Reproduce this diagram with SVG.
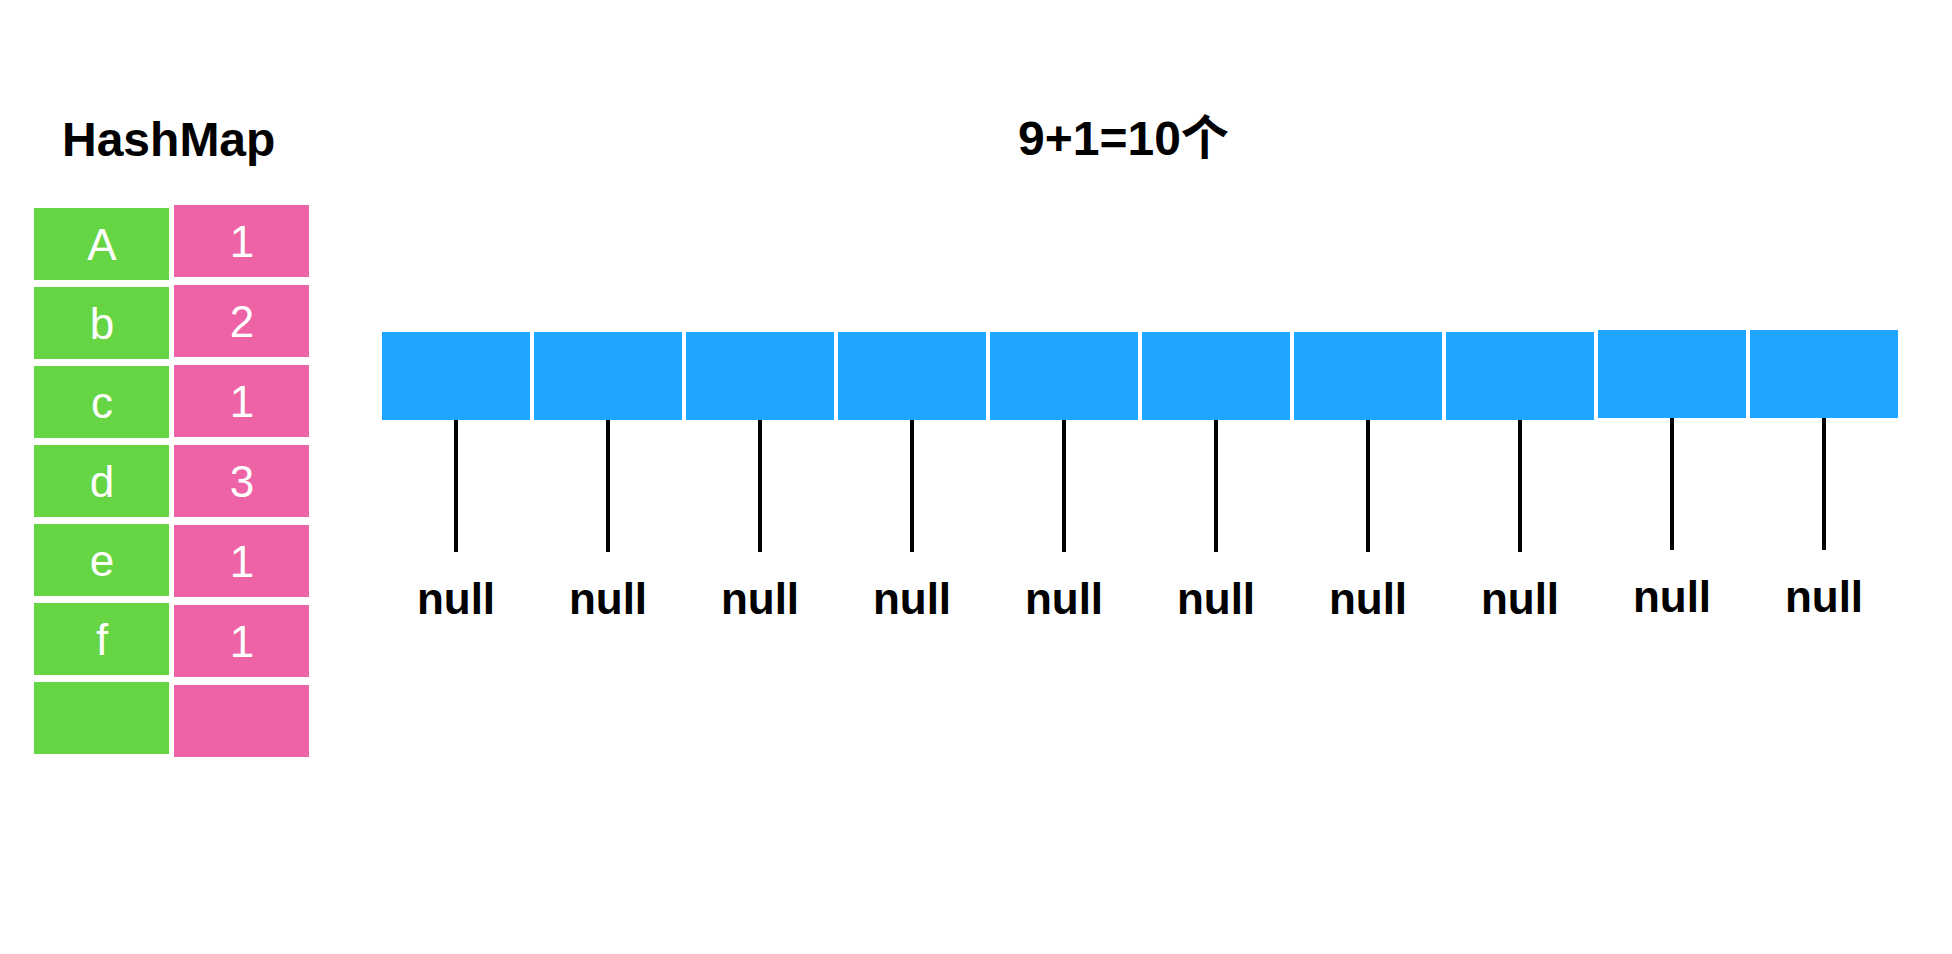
<svg xmlns="http://www.w3.org/2000/svg" width="1952" height="954" viewBox="0 0 1952 954">
<style>
.key{fill:#66D544}
.val{fill:#EE63A6}
.slot{fill:#1EA5FD}
.cell{font-family:"Liberation Sans",Arial,sans-serif;font-size:44px;fill:#fff;text-anchor:middle}
.title{font-family:"Liberation Sans",Arial,"Noto Sans CJK SC",sans-serif;font-size:48px;font-weight:bold;fill:#000}
.null{font-family:"Liberation Sans",Arial,sans-serif;font-size:44px;font-weight:bold;fill:#000;text-anchor:middle}
.link{stroke:#000;stroke-width:4;fill:none}
</style>
<rect width="1952" height="954" fill="#fff"/>
<text class="title" x="62" y="156">HashMap</text>
<text class="title" x="1018" y="155">9+1=10个</text>
<g id="hashmap">
<g id="row-A"><rect class="key" x="34" y="208" width="135" height="72"/><rect class="val" x="174" y="205" width="135" height="72"/><text class="cell" x="102" y="260">A</text><text class="cell" x="242" y="257">1</text></g>
<g id="row-b"><rect class="key" x="34" y="287" width="135" height="72"/><rect class="val" x="174" y="285" width="135" height="72"/><text class="cell" x="102" y="339">b</text><text class="cell" x="242" y="337">2</text></g>
<g id="row-c"><rect class="key" x="34" y="366" width="135" height="72"/><rect class="val" x="174" y="365" width="135" height="72"/><text class="cell" x="102" y="418">c</text><text class="cell" x="242" y="417">1</text></g>
<g id="row-d"><rect class="key" x="34" y="445" width="135" height="72"/><rect class="val" x="174" y="445" width="135" height="72"/><text class="cell" x="102" y="497">d</text><text class="cell" x="242" y="497">3</text></g>
<g id="row-e"><rect class="key" x="34" y="524" width="135" height="72"/><rect class="val" x="174" y="525" width="135" height="72"/><text class="cell" x="102" y="576">e</text><text class="cell" x="242" y="577">1</text></g>
<g id="row-f"><rect class="key" x="34" y="603" width="135" height="72"/><rect class="val" x="174" y="605" width="135" height="72"/><text class="cell" x="102" y="655">f</text><text class="cell" x="242" y="657">1</text></g>
<g id="row-empty"><rect class="key" x="34" y="682" width="135" height="72"/><rect class="val" x="174" y="685" width="135" height="72"/></g>
</g>
<g id="slots">
<g id="slot-1"><rect class="slot" x="382" y="332" width="148" height="88"/></g>
<g id="slot-2"><rect class="slot" x="534" y="332" width="148" height="88"/></g>
<g id="slot-3"><rect class="slot" x="686" y="332" width="148" height="88"/></g>
<g id="slot-4"><rect class="slot" x="838" y="332" width="148" height="88"/></g>
<g id="slot-5"><rect class="slot" x="990" y="332" width="148" height="88"/></g>
<g id="slot-6"><rect class="slot" x="1142" y="332" width="148" height="88"/></g>
<g id="slot-7"><rect class="slot" x="1294" y="332" width="148" height="88"/></g>
<g id="slot-8"><rect class="slot" x="1446" y="332" width="148" height="88"/></g>
<g id="slot-9"><rect class="slot" x="1598" y="330" width="148" height="88"/></g>
<g id="slot-10"><rect class="slot" x="1750" y="330" width="148" height="88"/></g>
</g>
<g id="connectors">
<line class="link" x1="456" y1="420" x2="456" y2="552"/>
<line class="link" x1="608" y1="420" x2="608" y2="552"/>
<line class="link" x1="760" y1="420" x2="760" y2="552"/>
<line class="link" x1="912" y1="420" x2="912" y2="552"/>
<line class="link" x1="1064" y1="420" x2="1064" y2="552"/>
<line class="link" x1="1216" y1="420" x2="1216" y2="552"/>
<line class="link" x1="1368" y1="420" x2="1368" y2="552"/>
<line class="link" x1="1520" y1="420" x2="1520" y2="552"/>
<line class="link" x1="1672" y1="418" x2="1672" y2="550"/>
<line class="link" x1="1824" y1="418" x2="1824" y2="550"/>
</g>
<g id="nulls">
<text class="null" x="456" y="614">null</text>
<text class="null" x="608" y="614">null</text>
<text class="null" x="760" y="614">null</text>
<text class="null" x="912" y="614">null</text>
<text class="null" x="1064" y="614">null</text>
<text class="null" x="1216" y="614">null</text>
<text class="null" x="1368" y="614">null</text>
<text class="null" x="1520" y="614">null</text>
<text class="null" x="1672" y="612">null</text>
<text class="null" x="1824" y="612">null</text>
</g>
</svg>
